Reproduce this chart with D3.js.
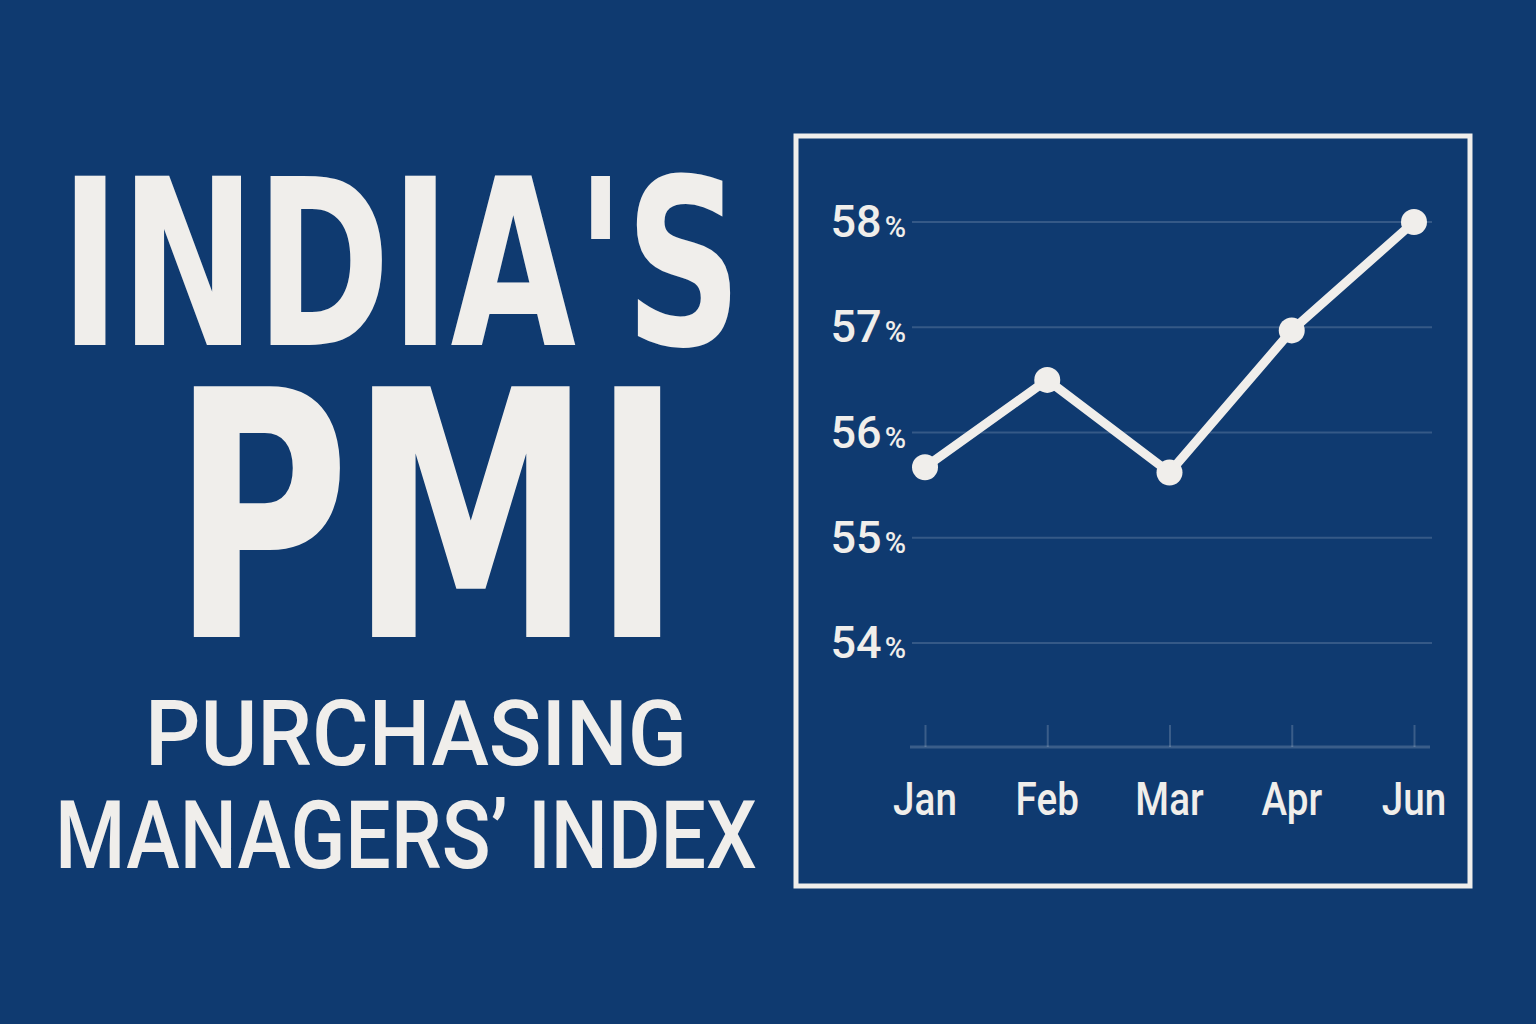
<!DOCTYPE html>
<html>
<head>
<meta charset="utf-8">
<script src="https://cdn.jsdelivr.net/npm/d3@7"></script>
<style>
  html, body { margin: 0; padding: 0; background: #0f3a70; }
  svg { display: block; }
</style>
</head>
<body>
<div id="chart"></div>
<script>
const width = 1536;
const height = 1024;

const BG = "#0f3a70";
const INK = "#f0eeeb";

// data
const months = ["Jan", "Feb", "Mar", "Apr", "Jun"];
const pmiValues = [55.67, 56.5, 55.62, 56.97, 58.0];
const yTicks = [54, 55, 56, 57, 58];

const svg = d3.select("#chart").append("svg")
    .attr("width", width)
    .attr("height", height);

svg.append("rect")
    .attr("width", width)
    .attr("height", height)
    .attr("fill", BG);

// big title on the left
const titleLines = [
    {text: "INDIA'S", x: 401, y: 345, size: 232, weight: "bold", fam: "'DejaVu Sans Condensed', sans-serif", len: 682},
    {text: "PMI", x: 427, y: 637, size: 344, weight: "bold", fam: "'DejaVu Sans Condensed', sans-serif", len: 511},
    {text: "PURCHASING", x: 416, y: 765, size: 90, weight: 500, fam: "Roboto, sans-serif", len: 542},
    {text: "MANAGERS\u2019 INDEX", x: 406, y: 868, size: 94, weight: 500, fam: "Roboto, sans-serif", len: 702}
];

svg.append("g").selectAll("text")
    .data(titleLines)
    .join("text")
    .attr("x", d => d.x)
    .attr("y", d => d.y)
    .attr("text-anchor", "middle")
    .attr("font-family", d => d.fam)
    .attr("font-weight", d => d.weight)
    .attr("font-size", d => d.size)
    .attr("textLength", d => d.len)
    .attr("lengthAdjust", "spacingAndGlyphs")
    .attr("fill", INK)
    .text(d => d.text);

// chart frame
svg.append("rect")
    .attr("x", 796)
    .attr("y", 136)
    .attr("width", 674)
    .attr("height", 750)
    .attr("fill", "none")
    .attr("stroke", INK)
    .attr("stroke-width", 5);

const x = d3.scalePoint()
    .domain(months)
    .range([925, 1414]);

const y = d3.scaleLinear()
    .domain([54, 58])
    .range([643, 222]);

// gridlines
svg.append("g").selectAll("line")
    .data(yTicks)
    .join("line")
    .attr("x1", 912)
    .attr("x2", 1432)
    .attr("y1", d => y(d))
    .attr("y2", d => y(d))
    .attr("stroke", "#ffffff")
    .attr("stroke-opacity", 0.16)
    .attr("stroke-width", 2);

// y labels: number with a smaller % sign
const yLab = svg.append("g").selectAll("text")
    .data(yTicks)
    .join("text")
    .attr("x", 906)
    .attr("y", d => y(d) + 15)
    .attr("text-anchor", "end")
    .attr("font-family", "Roboto, sans-serif")
    .attr("font-weight", 500)
    .attr("fill", INK);
yLab.append("tspan")
    .attr("font-size", 45)
    .text(d => d);
yLab.append("tspan")
    .attr("font-size", 29)
    .attr("dx", 3)
    .text("%");

// x axis
const xAxis = d3.axisBottom(x)
    .tickSize(22)
    .tickPadding(0)
    .tickFormat("");

const axisG = svg.append("g")
    .attr("transform", "translate(0,725)")
    .call(xAxis);
axisG.select(".domain").remove();
axisG.selectAll(".tick text").remove();
axisG.selectAll(".tick line")
    .attr("stroke", "#ffffff")
    .attr("stroke-opacity", 0.18)
    .attr("stroke-width", 2);

svg.append("line")
    .attr("x1", 910)
    .attr("x2", 1430)
    .attr("y1", 747)
    .attr("y2", 747)
    .attr("stroke", "#ffffff")
    .attr("stroke-opacity", 0.18)
    .attr("stroke-width", 3);

svg.append("g").selectAll("text")
    .data(months)
    .join("text")
    .attr("x", d => x(d))
    .attr("y", 815)
    .attr("text-anchor", "middle")
    .attr("font-family", "Roboto, sans-serif")
    .attr("font-weight", 500)
    .attr("font-size", 46)
    .attr("fill", INK)
    .text(d => d)
    .each(function() {
        // condensed look: squeeze the natural width
        const w = this.getComputedTextLength();
        d3.select(this)
            .attr("textLength", w * 0.84)
            .attr("lengthAdjust", "spacingAndGlyphs");
    });

// the line
const lineGen = d3.line()
    .x((d, i) => x(months[i]))
    .y(d => y(d));

svg.append("path")
    .datum(pmiValues)
    .attr("d", lineGen)
    .attr("fill", "none")
    .attr("stroke", INK)
    .attr("stroke-width", 9)
    .attr("stroke-linejoin", "round");

svg.append("g").selectAll("circle")
    .data(pmiValues)
    .join("circle")
    .attr("cx", (d, i) => x(months[i]))
    .attr("cy", d => y(d))
    .attr("r", 13)
    .attr("fill", INK);
</script>
</body>
</html>
